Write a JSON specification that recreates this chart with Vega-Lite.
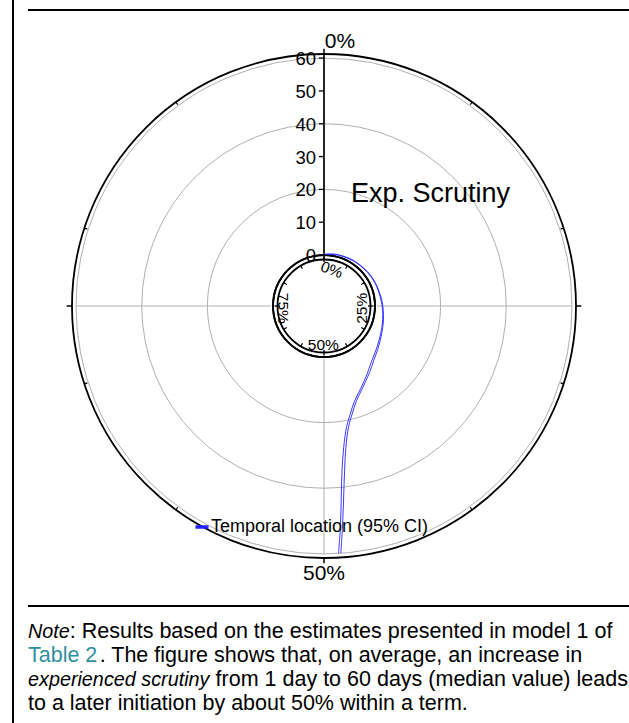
{
 "$schema": "https://vega.github.io/schema/vega-lite/v6.json",
 "width": 629, "height": 723, "autosize": {"type": "none"}, "padding": 0,
 "background": "white",
 "config": {"view": {"stroke": null}, "font": "Liberation Sans"},
 "data": {"values": [{}]},
 "layer": [
  {"data": {"values": [{"v": 0}, {"v": 20}, {"v": 40}, {"v": 60}]},
   "mark": {"type": "arc", "fill": "transparent", "stroke": "#b0b0b0", "strokeWidth": 1, "theta": 0, "theta2": 6.2832},
   "encoding": {
    "x": {"datum": 0, "type": "quantitative", "scale": {"type": "linear", "domain": [-98.72, 92.93], "nice": false, "zero": false}, "axis": null},
    "y": {"datum": 0, "type": "quantitative", "scale": {"type": "linear", "domain": [-127.06, 93.24], "nice": false, "zero": false}, "axis": null},
    "radius": {"field": "v", "type": "quantitative", "stack": null, "scale": {"type": "linear", "domain": [-15.53, 60], "range": [0, 247.9], "zero": false, "nice": false}}
   }},
  {"data": {"values": [{"v": -1.36}, {"v": 61.25}]},
   "mark": {"type": "arc", "fill": "transparent", "stroke": "black", "strokeWidth": 1.8, "theta": 0, "theta2": 6.2832},
   "encoding": {
    "x": {"datum": 0, "type": "quantitative", "scale": {"type": "linear", "domain": [-98.72, 92.93], "nice": false, "zero": false}, "axis": null},
    "y": {"datum": 0, "type": "quantitative", "scale": {"type": "linear", "domain": [-127.06, 93.24], "nice": false, "zero": false}, "axis": null},
    "radius": {"field": "v", "type": "quantitative", "stack": null, "scale": {"type": "linear", "domain": [-15.53, 60], "range": [0, 247.9], "zero": false, "nice": false}}
   }},
  {"data": {"values": [{"p": 0.25}, {"p": 0.5}, {"p": 0.75}]},
   "transform": [
    {"calculate": "16.1*sin(2*PI*datum.p)", "as": "x1"},
    {"calculate": "16.1*cos(2*PI*datum.p)", "as": "y1"},
    {"calculate": "75.53*sin(2*PI*datum.p)", "as": "x2"},
    {"calculate": "75.53*cos(2*PI*datum.p)", "as": "y2"}
   ],
   "mark": {"type": "rule", "color": "#b0b0b0", "strokeWidth": 1},
   "encoding": {
    "x": {"field": "x1", "type": "quantitative", "scale": {"type": "linear", "domain": [-98.72, 92.93], "nice": false, "zero": false}, "axis": null},
    "y": {"field": "y1", "type": "quantitative", "scale": {"type": "linear", "domain": [-127.06, 93.24], "nice": false, "zero": false}, "axis": null},
    "x2": {"field": "x2"}, "y2": {"field": "y2"}
   }},
  {"data": {"values": [{"p": 0}, {"p": 0.25}, {"p": 0.5}, {"p": 0.75}]},
   "transform": [
    {"calculate": "76.78*sin(2*PI*datum.p)", "as": "x1"},
    {"calculate": "76.78*cos(2*PI*datum.p)", "as": "y1"},
    {"calculate": "78.4*sin(2*PI*datum.p)", "as": "x2"},
    {"calculate": "78.4*cos(2*PI*datum.p)", "as": "y2"}
   ],
   "mark": {"type": "rule", "color": "black", "strokeWidth": 1.5},
   "encoding": {
    "x": {"field": "x1", "type": "quantitative", "scale": {"type": "linear", "domain": [-98.72, 92.93], "nice": false, "zero": false}, "axis": null},
    "y": {"field": "y1", "type": "quantitative", "scale": {"type": "linear", "domain": [-127.06, 93.24], "nice": false, "zero": false}, "axis": null},
    "x2": {"field": "x2"}, "y2": {"field": "y2"}
   }},
  {"data": {"values": [{"p": 0.1}, {"p": 0.2}, {"p": 0.3}, {"p": 0.4}, {"p": 0.6}, {"p": 0.7}, {"p": 0.8}, {"p": 0.9}]},
   "transform": [
    {"calculate": "75.8*sin(2*PI*datum.p)", "as": "x1"},
    {"calculate": "75.8*cos(2*PI*datum.p)", "as": "y1"},
    {"calculate": "76.78*sin(2*PI*datum.p)", "as": "x2"},
    {"calculate": "76.78*cos(2*PI*datum.p)", "as": "y2"}
   ],
   "mark": {"type": "rule", "color": "black", "strokeWidth": 1.2},
   "encoding": {
    "x": {"field": "x1", "type": "quantitative", "scale": {"type": "linear", "domain": [-98.72, 92.93], "nice": false, "zero": false}, "axis": null},
    "y": {"field": "y1", "type": "quantitative", "scale": {"type": "linear", "domain": [-127.06, 93.24], "nice": false, "zero": false}, "axis": null},
    "x2": {"field": "x2"}, "y2": {"field": "y2"}
   }},
  {"data": {"values": [{"p": 0}, {"p": 0.25}, {"p": 0.5}, {"p": 0.75}]},
   "transform": [
    {"calculate": "13.4*sin(2*PI*datum.p)", "as": "x1"},
    {"calculate": "13.4*cos(2*PI*datum.p)", "as": "y1"},
    {"calculate": "15.1*sin(2*PI*datum.p)", "as": "x2"},
    {"calculate": "15.1*cos(2*PI*datum.p)", "as": "y2"}
   ],
   "mark": {"type": "rule", "color": "black", "strokeWidth": 1.3},
   "encoding": {
    "x": {"field": "x1", "type": "quantitative", "scale": {"type": "linear", "domain": [-98.72, 92.93], "nice": false, "zero": false}, "axis": null},
    "y": {"field": "y1", "type": "quantitative", "scale": {"type": "linear", "domain": [-127.06, 93.24], "nice": false, "zero": false}, "axis": null},
    "x2": {"field": "x2"}, "y2": {"field": "y2"}
   }},
  {"data": {"values": [{"p": 0.0833}, {"p": 0.1667}, {"p": 0.3333}, {"p": 0.4167}, {"p": 0.5833}, {"p": 0.6667}, {"p": 0.8333}, {"p": 0.9167}]},
   "transform": [
    {"calculate": "13.1*sin(2*PI*datum.p)", "as": "x1"},
    {"calculate": "13.1*cos(2*PI*datum.p)", "as": "y1"},
    {"calculate": "14.17*sin(2*PI*datum.p)", "as": "x2"},
    {"calculate": "14.17*cos(2*PI*datum.p)", "as": "y2"}
   ],
   "mark": {"type": "rule", "color": "black", "strokeWidth": 1.2},
   "encoding": {
    "x": {"field": "x1", "type": "quantitative", "scale": {"type": "linear", "domain": [-98.72, 92.93], "nice": false, "zero": false}, "axis": null},
    "y": {"field": "y1", "type": "quantitative", "scale": {"type": "linear", "domain": [-127.06, 93.24], "nice": false, "zero": false}, "axis": null},
    "x2": {"field": "x2"}, "y2": {"field": "y2"}
   }},
  {"mark": {"type": "rule", "color": "black", "strokeWidth": 1.7},
   "encoding": {
    "x": {"datum": 0, "type": "quantitative", "scale": {"type": "linear", "domain": [-98.72, 92.93], "nice": false, "zero": false}, "axis": null},
    "y": {"datum": 14.17, "type": "quantitative", "scale": {"type": "linear", "domain": [-127.06, 93.24], "nice": false, "zero": false}, "axis": null},
    "y2": {"datum": 76.78}
   }},
  {"data": {"values": [{"v": 0}, {"v": 10}, {"v": 20}, {"v": 30}, {"v": 40}, {"v": 50}, {"v": 60}]},
   "transform": [{"calculate": "datum.v + 15.53", "as": "ry"}],
   "layer": [
    {"mark": {"type": "rule", "color": "black", "strokeWidth": 1.3},
     "encoding": {
      "x": {"datum": -1.55, "type": "quantitative", "scale": {"type": "linear", "domain": [-98.72, 92.93], "nice": false, "zero": false}, "axis": null},
      "x2": {"datum": 0},
      "y": {"field": "ry", "type": "quantitative", "scale": {"type": "linear", "domain": [-127.06, 93.24], "nice": false, "zero": false}, "axis": null}
     }},
    {"mark": {"type": "text", "align": "right", "baseline": "middle", "fontSize": 18.5, "dy": 1, "color": "black"},
     "encoding": {
      "x": {"datum": -2.4, "type": "quantitative", "scale": {"type": "linear", "domain": [-98.72, 92.93], "nice": false, "zero": false}, "axis": null},
      "y": {"field": "ry", "type": "quantitative", "scale": {"type": "linear", "domain": [-127.06, 93.24], "nice": false, "zero": false}, "axis": null},
      "text": {"field": "v", "type": "quantitative"}
     }}
   ]},
  {"data": {"values": [
    {"v": 0.2, "lo": 0.000, "hi": 0.010},
    {"v": 0.6, "lo": 0.030, "hi": 0.048},
    {"v": 1.0, "lo": 0.090, "hi": 0.112},
    {"v": 1.5, "lo": 0.160, "hi": 0.180},
    {"v": 2.0, "lo": 0.222, "hi": 0.238},
    {"v": 2.5, "lo": 0.258, "hi": 0.270},
    {"v": 3.2, "lo": 0.292, "hi": 0.303},
    {"v": 4.2, "lo": 0.328, "hi": 0.338},
    {"v": 5.5, "lo": 0.358, "hi": 0.367},
    {"v": 7.0, "lo": 0.383, "hi": 0.391},
    {"v": 9.0, "lo": 0.404, "hi": 0.410},
    {"v": 12.0, "lo": 0.4295, "hi": 0.4335},
    {"v": 15.0, "lo": 0.4475, "hi": 0.4510},
    {"v": 18.5, "lo": 0.4595, "hi": 0.4625},
    {"v": 22.0, "lo": 0.4680, "hi": 0.4707},
    {"v": 28.0, "lo": 0.4755, "hi": 0.4780},
    {"v": 35.0, "lo": 0.4802, "hi": 0.4827},
    {"v": 43.0, "lo": 0.4837, "hi": 0.4857},
    {"v": 52.0, "lo": 0.4867, "hi": 0.4882},
    {"v": 60.0, "lo": 0.4892, "hi": 0.4907}
   ]},
   "transform": [
    {"fold": ["lo", "hi"], "as": ["bound", "p"]},
    {"calculate": "(datum.v + 15.53)*sin(2*PI*datum.p)", "as": "cx"},
    {"calculate": "(datum.v + 15.53)*cos(2*PI*datum.p)", "as": "cy"}
   ],
   "mark": {"type": "line", "strokeWidth": 0.9, "interpolate": "catmull-rom"},
   "encoding": {
    "x": {"field": "cx", "type": "quantitative", "scale": {"type": "linear", "domain": [-98.72, 92.93], "nice": false, "zero": false}, "axis": null},
    "y": {"field": "cy", "type": "quantitative", "scale": {"type": "linear", "domain": [-127.06, 93.24], "nice": false, "zero": false}, "axis": null},
    "detail": {"field": "bound"},
    "order": {"field": "v", "type": "quantitative"},
    "color": {"datum": "Temporal location (95% CI)", "scale": {"range": ["#2222ff"]},
     "legend": {"orient": "none", "legendX": 193, "legendY": 518, "title": null, "symbolType": "stroke", "symbolStrokeWidth": 3.5, "symbolSize": 170, "labelFontSize": 18, "labelFont": "Liberation Sans", "labelColor": "black", "labelOffset": 0, "labelLimit": 400, "padding": 0}}
   }},
  {"mark": {"type": "text", "text": "Exp. Scrutiny", "fontSize": 27, "align": "left", "baseline": "alphabetic", "color": "black"},
   "encoding": {
    "x": {"datum": 8.22, "type": "quantitative", "scale": {"type": "linear", "domain": [-98.72, 92.93], "nice": false, "zero": false}, "axis": null},
    "y": {"datum": 31.68, "type": "quantitative", "scale": {"type": "linear", "domain": [-127.06, 93.24], "nice": false, "zero": false}, "axis": null}
   }},
  {"mark": {"type": "text", "text": "0%", "fontSize": 21, "align": "center", "baseline": "alphabetic", "color": "black"},
   "encoding": {
    "x": {"datum": 4.87, "type": "quantitative", "scale": {"type": "linear", "domain": [-98.72, 92.93], "nice": false, "zero": false}, "axis": null},
    "y": {"datum": 78.5, "type": "quantitative", "scale": {"type": "linear", "domain": [-127.06, 93.24], "nice": false, "zero": false}, "axis": null}
   }},
  {"mark": {"type": "text", "text": "50%", "fontSize": 21, "align": "center", "baseline": "alphabetic", "color": "black"},
   "encoding": {
    "x": {"datum": 0, "type": "quantitative", "scale": {"type": "linear", "domain": [-98.72, 92.93], "nice": false, "zero": false}, "axis": null},
    "y": {"datum": -83.46, "type": "quantitative", "scale": {"type": "linear", "domain": [-127.06, 93.24], "nice": false, "zero": false}, "axis": null}
   }},
  {"mark": {"type": "text", "text": "0%", "fontSize": 15.5, "align": "center", "baseline": "middle", "angle": 20, "color": "black"},
   "encoding": {
    "x": {"datum": 2.35, "type": "quantitative", "scale": {"type": "linear", "domain": [-98.72, 92.93], "nice": false, "zero": false}, "axis": null},
    "y": {"datum": 10.97, "type": "quantitative", "scale": {"type": "linear", "domain": [-127.06, 93.24], "nice": false, "zero": false}, "axis": null}
   }},
  {"mark": {"type": "text", "text": "25%", "fontSize": 15.5, "align": "center", "baseline": "middle", "angle": 270, "color": "black"},
   "encoding": {
    "x": {"datum": 11.48, "type": "quantitative", "scale": {"type": "linear", "domain": [-98.72, 92.93], "nice": false, "zero": false}, "axis": null},
    "y": {"datum": -0.7, "type": "quantitative", "scale": {"type": "linear", "domain": [-127.06, 93.24], "nice": false, "zero": false}, "axis": null}
   }},
  {"mark": {"type": "text", "text": "50%", "fontSize": 15.5, "align": "center", "baseline": "middle", "color": "black"},
   "encoding": {
    "x": {"datum": -0.2, "type": "quantitative", "scale": {"type": "linear", "domain": [-98.72, 92.93], "nice": false, "zero": false}, "axis": null},
    "y": {"datum": -11.88, "type": "quantitative", "scale": {"type": "linear", "domain": [-127.06, 93.24], "nice": false, "zero": false}, "axis": null}
   }},
  {"mark": {"type": "text", "text": "75%", "fontSize": 15.5, "align": "center", "baseline": "middle", "angle": 90, "color": "black"},
   "encoding": {
    "x": {"datum": -12.4, "type": "quantitative", "scale": {"type": "linear", "domain": [-98.72, 92.93], "nice": false, "zero": false}, "axis": null},
    "y": {"datum": -0.7, "type": "quantitative", "scale": {"type": "linear", "domain": [-127.06, 93.24], "nice": false, "zero": false}, "axis": null}
   }},
  {"mark": {"type": "rule", "color": "black", "strokeWidth": 2},
   "encoding": {
    "x": {"datum": -94.76, "type": "quantitative", "scale": {"type": "linear", "domain": [-98.72, 92.93], "nice": false, "zero": false}, "axis": null},
    "y": {"datum": -127.06, "type": "quantitative", "scale": {"type": "linear", "domain": [-127.06, 93.24], "nice": false, "zero": false}, "axis": null},
    "y2": {"datum": 93.24}
   }},
  {"mark": {"type": "rule", "color": "black", "strokeWidth": 2},
   "encoding": {
    "x": {"datum": -90.19, "type": "quantitative", "scale": {"type": "linear", "domain": [-98.72, 92.93], "nice": false, "zero": false}, "axis": null},
    "x2": {"datum": 92.93},
    "y": {"datum": 90.19, "type": "quantitative", "scale": {"type": "linear", "domain": [-127.06, 93.24], "nice": false, "zero": false}, "axis": null}
   }},
  {"mark": {"type": "rule", "color": "black", "strokeWidth": 2},
   "encoding": {
    "x": {"datum": -90.19, "type": "quantitative", "scale": {"type": "linear", "domain": [-98.72, 92.93], "nice": false, "zero": false}, "axis": null},
    "x2": {"datum": 92.93},
    "y": {"datum": -91.41, "type": "quantitative", "scale": {"type": "linear", "domain": [-127.06, 93.24], "nice": false, "zero": false}, "axis": null}
   }},
  {"mark": {"type": "text", "text": "Note", "fontSize": 19.8, "fontStyle": "italic", "align": "left", "baseline": "alphabetic", "color": "black"},
   "encoding": {
    "x": {"datum": -90.19, "type": "quantitative", "scale": {"type": "linear", "domain": [-98.72, 92.93], "nice": false, "zero": false}, "axis": null},
    "y": {"datum": -101.16, "type": "quantitative", "scale": {"type": "linear", "domain": [-127.06, 93.24], "nice": false, "zero": false}, "axis": null}
   }},
  {"mark": {"type": "text", "text": ": Results based on the estimates presented in model 1 of", "fontSize": 21.5, "dx": 41.8, "align": "left", "baseline": "alphabetic", "color": "black"},
   "encoding": {
    "x": {"datum": -90.19, "type": "quantitative", "scale": {"type": "linear", "domain": [-98.72, 92.93], "nice": false, "zero": false}, "axis": null},
    "y": {"datum": -101.16, "type": "quantitative", "scale": {"type": "linear", "domain": [-127.06, 93.24], "nice": false, "zero": false}, "axis": null}
   }},
  {"mark": {"type": "text", "text": "Table 2", "fontSize": 21.5, "align": "left", "baseline": "alphabetic", "color": "#2f8f9d"},
   "encoding": {
    "x": {"datum": -90.19, "type": "quantitative", "scale": {"type": "linear", "domain": [-98.72, 92.93], "nice": false, "zero": false}, "axis": null},
    "y": {"datum": -108.47, "type": "quantitative", "scale": {"type": "linear", "domain": [-127.06, 93.24], "nice": false, "zero": false}, "axis": null}
   }},
  {"mark": {"type": "text", "text": ". The figure shows that, on average, an increase in", "fontSize": 21.5, "dx": 71.7, "align": "left", "baseline": "alphabetic", "color": "black"},
   "encoding": {
    "x": {"datum": -90.19, "type": "quantitative", "scale": {"type": "linear", "domain": [-98.72, 92.93], "nice": false, "zero": false}, "axis": null},
    "y": {"datum": -108.47, "type": "quantitative", "scale": {"type": "linear", "domain": [-127.06, 93.24], "nice": false, "zero": false}, "axis": null}
   }},
  {"mark": {"type": "text", "text": "experienced scrutiny", "fontSize": 19.8, "fontStyle": "italic", "align": "left", "baseline": "alphabetic", "color": "black"},
   "encoding": {
    "x": {"datum": -90.19, "type": "quantitative", "scale": {"type": "linear", "domain": [-98.72, 92.93], "nice": false, "zero": false}, "axis": null},
    "y": {"datum": -115.78, "type": "quantitative", "scale": {"type": "linear", "domain": [-127.06, 93.24], "nice": false, "zero": false}, "axis": null}
   }},
  {"mark": {"type": "text", "text": "from 1 day to 60 days (median value) leads", "fontSize": 21.5, "dx": 187.6, "align": "left", "baseline": "alphabetic", "color": "black"},
   "encoding": {
    "x": {"datum": -90.19, "type": "quantitative", "scale": {"type": "linear", "domain": [-98.72, 92.93], "nice": false, "zero": false}, "axis": null},
    "y": {"datum": -115.78, "type": "quantitative", "scale": {"type": "linear", "domain": [-127.06, 93.24], "nice": false, "zero": false}, "axis": null}
   }},
  {"mark": {"type": "text", "text": "to a later initiation by about 50% within a term.", "fontSize": 21.5, "align": "left", "baseline": "alphabetic", "color": "black"},
   "encoding": {
    "x": {"datum": -90.19, "type": "quantitative", "scale": {"type": "linear", "domain": [-98.72, 92.93], "nice": false, "zero": false}, "axis": null},
    "y": {"datum": -123.1, "type": "quantitative", "scale": {"type": "linear", "domain": [-127.06, 93.24], "nice": false, "zero": false}, "axis": null}
   }}
 ]
}
